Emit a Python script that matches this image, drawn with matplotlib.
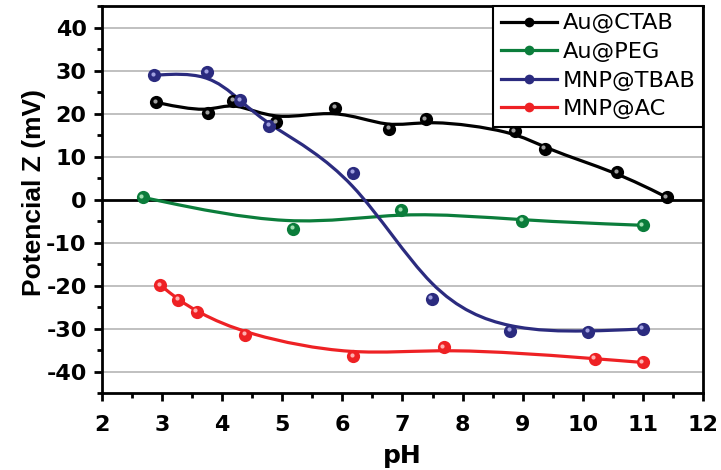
import numpy as np
import matplotlib
matplotlib.use("Agg")
import matplotlib.pyplot as plt
from matplotlib.path import Path
from matplotlib.patches import PathPatch
from matplotlib.lines import Line2D
from matplotlib.ticker import MultipleLocator
from matplotlib.transforms import offset_copy

plt.rcParams["font.family"] = ["DejaVu Sans"]
plt.rcParams["axes.unicode_minus"] = False

# Data
ph_ctab = [2.9, 3.77, 4.18, 4.9, 5.88, 6.78, 7.39, 8.87, 9.37, 10.57, 11.4]
z_ctab = [22.6, 20.1, 23.0, 18.0, 21.3, 16.4, 18.7, 15.9, 11.8, 6.3, 0.5]

ph_peg = [2.68, 5.18, 6.98, 8.99, 11.0]
z_peg = [0.5, -6.8, -2.5, -4.9, -6.0]

ph_tbab = [2.87, 3.75, 4.3, 4.78, 6.18, 7.49, 8.79, 10.09, 11.0]
z_tbab = [28.9, 29.6, 23.1, 17.1, 6.2, -23.1, -30.5, -30.7, -30.1]

ph_ac = [2.97, 3.27, 3.58, 4.38, 6.18, 7.69, 10.2, 11.0]
z_ac = [-19.9, -23.3, -26.1, -31.4, -36.5, -34.4, -37.0, -37.9]

labels = ["Au@CTAB", "Au@PEG", "MNP@TBAB", "MNP@AC"]
colors = ["#000000", "#0b7d3b", "#2b2b7f", "#ee2124"]
shine = ["#a0a0a0", "#9ee0b0", "#a0a0e0", "#ffb0b0"]
series = [(ph_ctab, z_ctab), (ph_peg, z_peg), (ph_tbab, z_tbab), (ph_ac, z_ac)]


def bspline_path(x, y):
    # uniform cubic B-spline using the points as control points (Origin style)
    pts = np.column_stack([x, y])
    q = np.vstack([pts[:1], pts[:1], pts, pts[-1:], pts[-1:]])
    verts = [pts[0]]
    codes = [Path.MOVETO]
    for i in range(len(q) - 3):
        a, b, c, d = q[i:i + 4]
        verts += [(2 * b + c) / 3, (b + 2 * c) / 3, (b + 4 * c + d) / 6]
        codes += [Path.CURVE4] * 3
    return Path(verts, codes)


fig = plt.figure(figsize=(7.21, 4.70), dpi=100)
ax = fig.add_axes([0.1415, 0.1638, 0.8335, 0.8234])

ax.set_xlim(2, 12)
ax.set_ylim(-45, 45)
ax.xaxis.set_major_locator(MultipleLocator(1))
ax.xaxis.set_minor_locator(MultipleLocator(0.5))
ax.yaxis.set_major_locator(MultipleLocator(10))
ax.yaxis.set_minor_locator(MultipleLocator(5))

for yv in range(-40, 50, 10):
    if yv == 0:
        ax.axhline(0, color="black", lw=2.0, zorder=1.5)
    else:
        ax.axhline(yv, color="#c0c0c0", lw=1.4, zorder=1)

hl = offset_copy(ax.transData, fig=fig, x=-1.5, y=1.5, units="dots")
for (x, y), c, s in zip(series, colors, shine):
    ax.add_patch(PathPatch(bspline_path(x, y), fill=False, edgecolor=c,
                           lw=2.3, capstyle="round", zorder=2))
    ax.plot(x, y, "o", ms=9.5, color=c, mew=0, zorder=3)
    ax.plot(x, y, "o", ms=3, color=s, mew=0, zorder=4, transform=hl)

for sp in ax.spines.values():
    sp.set_linewidth(2)
ax.tick_params(which="major", direction="out", length=6, width=2,
               labelsize=16, pad=5)
ax.tick_params(axis="x", which="major", pad=10)
ax.tick_params(which="minor", direction="out", length=3.5, width=2)
for lab in ax.get_xticklabels() + ax.get_yticklabels():
    lab.set_fontweight("bold")

ax.set_xlabel("pH", fontsize=18, fontweight="bold", labelpad=6)
ax.set_ylabel("Potencial Z (mV)", fontsize=19, fontweight="bold",
              family=["Liberation Sans", "DejaVu Sans"])
ax.yaxis.set_label_coords(-0.093, 0.517)

handles = [Line2D([], [], color=c, lw=2.3, marker="o", ms=7, mew=0)
           for c in colors]
leg = ax.legend(handles, labels, loc="upper right", borderaxespad=0,
                fontsize=16.2, handlelength=2.5, handletextpad=0.25,
                labelspacing=0.38, borderpad=0.33, fancybox=False,
                framealpha=1, edgecolor="black")
leg.get_frame().set_linewidth(1.5)
leg.set_zorder(5)

fig.savefig("out.png", dpi=100)
